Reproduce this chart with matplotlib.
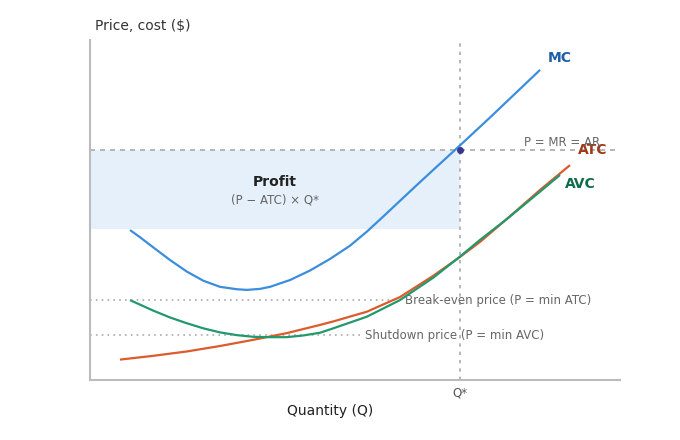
import matplotlib
matplotlib.use("Agg")
import matplotlib.pyplot as plt

# cost curves (Q in units, price in $)
mc_q = [0.755, 0.943, 1.194, 1.509, 1.825, 2.138, 2.453, 2.768, 2.957, 3.208, 3.396,
        3.774, 4.151, 4.528, 4.906, 5.221, 5.534, 5.849, 6.164, 6.477, 6.792, 6.981,
        7.547, 8.019, 8.491]
mc_p = [4.41, 4.20, 3.90, 3.53, 3.19, 2.92, 2.74, 2.67, 2.65, 2.68, 2.74,
        2.94, 3.22, 3.56, 3.95, 4.36, 4.81, 5.27, 5.73, 6.18, 6.63, 6.90,
        7.72, 8.42, 9.12]

avc_q = [0.755, 1.194, 1.509, 1.825, 2.138, 2.453, 2.768, 3.081, 3.396, 3.711, 4.025,
         4.340, 4.591, 5.221, 5.849, 6.477, 6.981, 7.358, 7.862, 8.491, 8.868]
avc_p = [2.35, 2.04, 1.84, 1.67, 1.52, 1.40, 1.32, 1.27, 1.26, 1.26, 1.31,
         1.39, 1.52, 1.86, 2.35, 3.01, 3.63, 4.12, 4.73, 5.54, 6.03]

atc_q = [0.566, 1.189, 1.830, 2.453, 3.075, 3.717, 4.340, 4.585, 5.226, 5.849, 6.472,
         6.981, 7.358, 7.868, 8.491, 9.057]
atc_p = [0.60, 0.71, 0.84, 1.00, 1.18, 1.38, 1.62, 1.72, 2.01, 2.44, 3.06,
         3.62, 4.06, 4.74, 5.59, 6.32]

q_star = 6.98
price = 6.76
atc_at_q = 4.44
break_even = 2.35
shutdown = 1.32

fig = plt.figure(figsize=(6.8, 4.4), dpi=100)
ax = fig.add_axes([90 / 680, 60 / 440, 530 / 680, 340 / 440])
ax.set_xlim(0, 10)
ax.set_ylim(0, 10)

# profit rectangle
ax.fill_between([0, q_star], atc_at_q, price, color="#e6f0fb", linewidth=0, zorder=1)

# reference lines
ax.axhline(price, color="#aaaaaa", linestyle=(0, (3, 3)), linewidth=1.2, zorder=2)
ax.axvline(q_star, color="#aaaaaa", linestyle=(0, (2, 3)), linewidth=1.2, zorder=2)
ax.plot([0, 5.8], [break_even, break_even], color="#aaaaaa", linestyle=(0, (1, 2.5)),
        linewidth=1.2, zorder=2)
ax.plot([0, 5.1], [shutdown, shutdown], color="#aaaaaa", linestyle=(0, (1, 2.5)),
        linewidth=1.2, zorder=2)

# curves
ax.plot(mc_q, mc_p, color="#3b8ddd", linewidth=1.6, zorder=3, solid_capstyle="butt")
ax.plot(atc_q, atc_p, color="#dc5a2c", linewidth=1.6, zorder=3, solid_capstyle="butt")
ax.plot(avc_q, avc_p, color="#22996b", linewidth=1.6, zorder=4, solid_capstyle="butt")
ax.plot([q_star], [price], "o", color="#3b3590", markersize=4, zorder=5)

# labels
ax.text(8.64, 9.46, "MC", color="#1f5fa8", fontsize=10, fontweight="bold",
        ha="left", va="center")
ax.text(9.21, 6.76, "ATC", color="#9c3a1a", fontsize=10, fontweight="bold",
        ha="left", va="center")
ax.text(8.96, 5.76, "AVC", color="#0f6b4a", fontsize=10, fontweight="bold",
        ha="left", va="center")
ax.text(9.62, 7.0, "P = MR = AR", color="#666666", fontsize=8.5, ha="right", va="center")
ax.text(3.49, 5.82, "Profit", color="#222222", fontsize=10, fontweight="bold",
        ha="center", va="center")
ax.text(3.49, 5.29, "(P \u2212 ATC) \u00d7 Q*", color="#666666", fontsize=8.5,
        ha="center", va="center")
ax.text(5.94, break_even, "Break-even price (P = min ATC)", color="#666666",
        fontsize=8.5, ha="left", va="center")
ax.text(5.19, shutdown, "Shutdown price (P = min AVC)", color="#666666",
        fontsize=8.5, ha="left", va="center")

ax.set_xticks([q_star])
ax.set_xticklabels(["Q*"], color="#555555", fontsize=8.5)
ax.tick_params(axis="x", length=0, pad=5)
ax.set_yticks([])

for side in ["top", "right"]:
    ax.spines[side].set_visible(False)
for side in ["left", "bottom"]:
    ax.spines[side].set_color("#bbbbbb")
    ax.spines[side].set_linewidth(1.5)

ax.set_xlabel("Quantity (Q)", fontsize=10, color="#222222")
ax.xaxis.set_label_coords(240 / 530, -24 / 340)
fig.text(95 / 680, 1 - 26 / 440, "Price, cost ($)", fontsize=10, color="#333333",
         ha="left", va="center")

fig.savefig("out.png", dpi=100)
